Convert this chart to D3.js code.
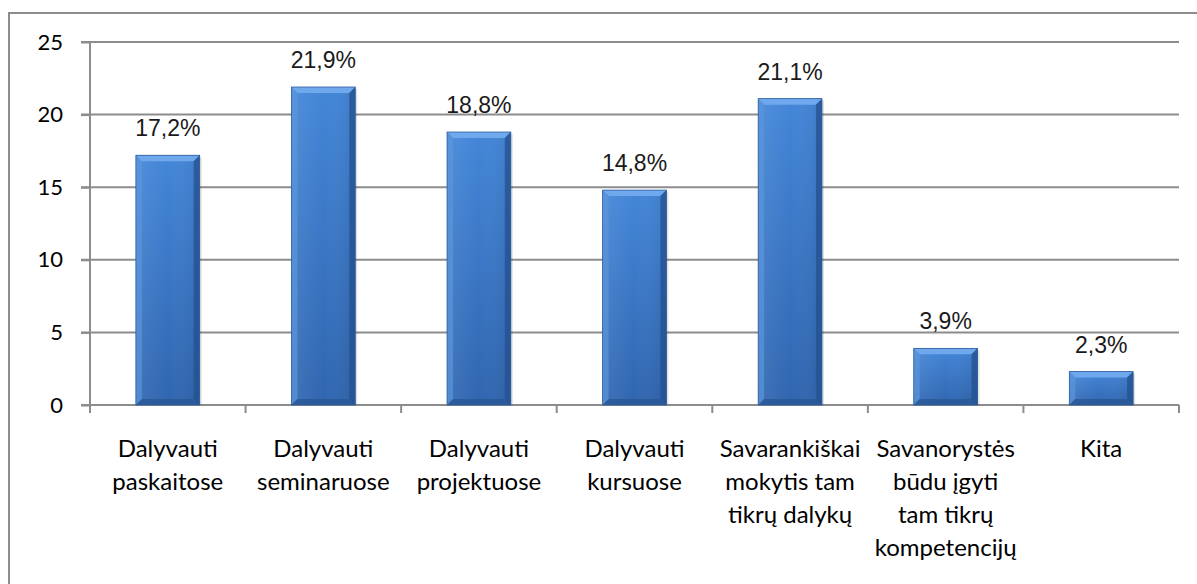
<!DOCTYPE html>
<html>
<head>
<meta charset="utf-8">
<script src="https://cdn.jsdelivr.net/npm/d3@7"></script>
<style>
  body { margin: 0; background: #fff; }
  svg { display: block; }
</style>
</head>
<body>
<script>
const categories = [
  ["Dalyvauti", "paskaitose"],
  ["Dalyvauti", "seminaruose"],
  ["Dalyvauti", "projektuose"],
  ["Dalyvauti", "kursuose"],
  ["Savarankiškai", "mokytis tam", "tikrų dalykų"],
  ["Savanorystės", "būdu įgyti", "tam tikrų", "kompetencijų"],
  ["Kita"]
];
const values = [17.2, 21.9, 18.8, 14.8, 21.1, 3.9, 2.3];
const yTicks = [0, 5, 10, 15, 20, 25];

const w = 1197;
const h = 584;
const m = { top: 42, right: 18, bottom: 179, left: 90 };

const lt = d3.formatLocale({ decimal: ",", thousands: " ", grouping: [3], currency: ["", ""] });
const pct = v => lt.format(".1f")(v) + "%";

const svg = d3.select("body").append("svg")
  .attr("width", w)
  .attr("height", h);

// gradients
const defs = svg.append("defs");
const body = defs.append("linearGradient").attr("id", "barBody")
  .attr("x1", 0).attr("y1", 0).attr("x2", 0).attr("y2", 1);
body.append("stop").attr("offset", 0).attr("stop-color", "#4386d8");
body.append("stop").attr("offset", 1).attr("stop-color", "#3066b0");
const side = defs.append("linearGradient").attr("id", "barSide")
  .attr("x1", 0).attr("y1", 0).attr("x2", 1).attr("y2", 0);
side.append("stop").attr("offset", 0).attr("stop-color", "#fff").attr("stop-opacity", 0.08);
side.append("stop").attr("offset", 0.5).attr("stop-color", "#fff").attr("stop-opacity", 0);
side.append("stop").attr("offset", 1).attr("stop-color", "#000").attr("stop-opacity", 0.08);

// outer frame
svg.append("rect")
  .attr("x", 9).attr("y", 13)
  .attr("width", w + 20).attr("height", h + 20)
  .attr("fill", "none")
  .attr("stroke", "#8c8c8c")
  .attr("stroke-width", 2);

const x = d3.scaleBand()
  .domain(d3.range(categories.length))
  .range([m.left, w - m.right]);

const y = d3.scaleLinear()
  .domain([0, 25])
  .range([h - m.bottom, m.top]);

// gridlines
svg.append("g")
  .selectAll("line")
  .data(yTicks.slice(1))
  .enter()
  .append("line")
  .attr("x1", m.left - 9).attr("x2", w - m.right)
  .attr("y1", d => y(d)).attr("y2", d => y(d))
  .attr("stroke", "#8c8c8c")
  .attr("stroke-width", 2);

// y axis
const yAxis = svg.append("g")
  .attr("transform", "translate(" + m.left + ",0)")
  .call(d3.axisLeft(y).tickValues(yTicks).tickSize(9).tickPadding(14));
yAxis.select(".domain").remove();
yAxis.selectAll("line").attr("stroke", "#8c8c8c").attr("stroke-width", 2);
yAxis.selectAll("text")
  .attr("font-family", "Lato, sans-serif")
  .attr("font-size", 22)
  .attr("fill", "#000")
  .attr("dx", "-4");
yAxis.append("line")
  .attr("x1", 0).attr("x2", 0)
  .attr("y1", m.top).attr("y2", y(0) + 8)
  .attr("stroke", "#8c8c8c").attr("stroke-width", 2);

// x axis line and ticks at category boundaries
const xa = svg.append("g");
xa.append("line")
  .attr("x1", m.left - 9).attr("x2", w - m.right)
  .attr("y1", y(0)).attr("y2", y(0))
  .attr("stroke", "#8c8c8c").attr("stroke-width", 2);
xa.selectAll(".xt")
  .data(d3.range(1, categories.length + 1))
  .enter()
  .append("line")
  .attr("x1", d => x.step() * d + m.left).attr("x2", d => x.step() * d + m.left)
  .attr("y1", y(0)).attr("y2", y(0) + 8)
  .attr("stroke", "#8c8c8c").attr("stroke-width", 2);

// bars
const bw = x.bandwidth() * 0.41;
const bev = 6;
const bars = svg.append("g")
  .selectAll("g")
  .data(values)
  .enter()
  .append("g")
  .attr("transform", (d, i) => "translate(" + (x(i) + (x.bandwidth() - bw) / 2) + "," + y(d) + ")");

bars.append("rect")
  .attr("x", 2).attr("y", 2)
  .attr("width", bw).attr("height", d => y(0) - y(d) - 2)
  .attr("fill", "#000").attr("opacity", 0.12);

bars.append("rect")
  .attr("width", bw)
  .attr("height", d => y(0) - y(d))
  .attr("fill", "url(#barBody)");
bars.append("rect")
  .attr("width", bw)
  .attr("height", d => y(0) - y(d))
  .attr("fill", "url(#barSide)");

// bevels
bars.append("polygon")
  .attr("points", "0,0 " + bw + ",0 " + (bw - bev) + "," + bev + " " + bev + "," + bev)
  .attr("fill", "#72aaee").attr("opacity", 0.95);
bars.append("polygon")
  .attr("points", d => "0,0 " + bev + "," + bev + " " + bev + "," + (y(0) - y(d) - bev) + " 0," + (y(0) - y(d)))
  .attr("fill", "#5b95dc").attr("opacity", 0.7);
bars.append("polygon")
  .attr("points", d => bw + ",0 " + (bw - bev) + "," + bev + " " + (bw - bev) + "," + (y(0) - y(d) - bev) + " " + bw + "," + (y(0) - y(d)))
  .attr("fill", "#24508f").attr("opacity", 0.75);
bars.append("polygon")
  .attr("points", d => "0," + (y(0) - y(d)) + " " + bev + "," + (y(0) - y(d) - bev) + " " + (bw - bev) + "," + (y(0) - y(d) - bev) + " " + bw + "," + (y(0) - y(d)))
  .attr("fill", "#2a5898").attr("opacity", 0.85);
bars.append("rect")
  .attr("width", bw)
  .attr("height", d => y(0) - y(d))
  .attr("fill", "none")
  .attr("stroke", "#2d5c9c").attr("stroke-width", 0.8);

// value labels
svg.append("g")
  .selectAll("text")
  .data(values)
  .enter()
  .append("text")
  .attr("x", (d, i) => x(i) + x.bandwidth() / 2)
  .attr("y", d => y(d) - 19)
  .attr("text-anchor", "middle")
  .attr("font-family", "'Liberation Sans', Arial, sans-serif")
  .attr("font-size", 23)
  .attr("fill", "#1a1a1a")
  .text(d => pct(d));

// category labels
const cl = svg.append("g")
  .selectAll("text")
  .data(categories)
  .enter()
  .append("text")
  .attr("x", (d, i) => x(i) + x.bandwidth() / 2)
  .attr("y", y(0) + 52)
  .attr("text-anchor", "middle")
  .attr("font-family", "Lato, sans-serif")
  .attr("font-size", 24)
  .attr("fill", "#000");
cl.selectAll("tspan")
  .data(d => d)
  .enter()
  .append("tspan")
  .attr("x", function () { return d3.select(this.parentNode).attr("x"); })
  .attr("dy", (d, i) => i === 0 ? 0 : 33)
  .text(d => d);
</script>
</body>
</html>
